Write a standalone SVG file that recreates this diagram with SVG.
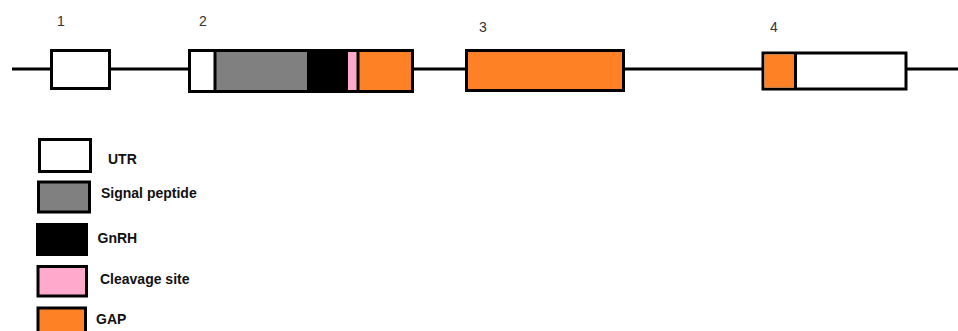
<svg xmlns="http://www.w3.org/2000/svg" width="958" height="331" viewBox="0 0 958 331">
<style>
.box{stroke:#000;stroke-width:3}
.div{stroke:#000;stroke-width:3}
.utr{fill:#fff}
.sig{fill:#808080}
.gnrh{fill:#000}
.clv{fill:#ffaacc}
.gap{fill:#ff8125}
.num{font-family:"Liberation Sans",Arial,sans-serif;font-size:14px;fill:#333}
.lbl{font-family:"Liberation Sans",Arial,sans-serif;font-size:14px;font-weight:bold;fill:#111}
</style>
<rect width="958" height="331" fill="#fff"/>
<g id="connectors">
<line x1="12" y1="69" x2="958" y2="69" stroke="#000" stroke-width="3"/>
</g>
<g id="exon1">
<rect class="box utr" x="51.5" y="50.5" width="58" height="38"/>
<text class="num" x="57" y="26">1</text>
</g>
<g id="exon2">
<rect class="box utr" x="189.5" y="50.5" width="223" height="41"/>
<rect class="sig" x="216" y="52" width="91" height="38"/>
<rect class="gnrh" x="307" y="52" width="41" height="38"/>
<rect class="clv" x="348" y="52" width="9" height="38"/>
<rect class="gap" x="359" y="52" width="52" height="38"/>
<line class="div" x1="215" y1="52" x2="215" y2="90"/>
<line class="div" x1="358" y1="52" x2="358" y2="90"/>
<text class="num" x="199" y="26">2</text>
</g>
<g id="exon3">
<rect class="box gap" x="466.5" y="50.5" width="157" height="40"/>
<text class="num" x="479" y="32">3</text>
</g>
<g id="exon4">
<rect class="box utr" x="763" y="53" width="143" height="36"/>
<rect class="gap" x="764.5" y="54.5" width="30" height="33"/>
<line class="div" x1="795.5" y1="53" x2="795.5" y2="89"/>
<text class="num" x="770" y="32">4</text>
</g>
<g id="legend-utr">
<rect class="box utr" x="39.5" y="139.5" width="51" height="32"/>
<text class="lbl" x="108" y="164">UTR</text>
</g>
<g id="legend-signal">
<rect class="box sig" x="38.5" y="182" width="51" height="30"/>
<text class="lbl" x="101" y="198">Signal peptide</text>
</g>
<g id="legend-gnrh">
<rect class="box gnrh" x="37.5" y="224.5" width="49" height="30"/>
<text class="lbl" x="97.5" y="243">GnRH</text>
</g>
<g id="legend-cleavage">
<rect class="box clv" x="38" y="266.5" width="48.5" height="29.5"/>
<text class="lbl" x="100" y="284">Cleavage site</text>
</g>
<g id="legend-gap">
<rect class="box gap" x="38" y="308" width="47.5" height="30"/>
<text class="lbl" x="96" y="324">GAP</text>
</g>
</svg>
